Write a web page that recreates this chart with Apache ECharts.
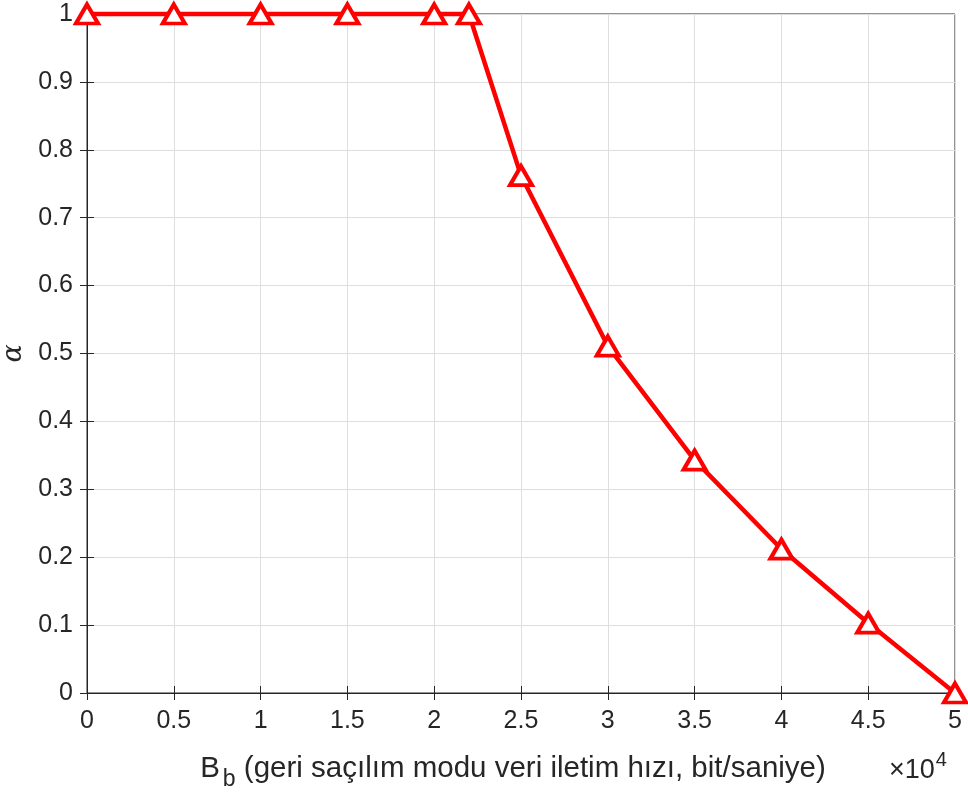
<!DOCTYPE html>
<html>
<head>
<meta charset="utf-8">
<script src="https://cdn.jsdelivr.net/npm/echarts@6/dist/echarts.min.js"></script>
<style>
  html, body { margin: 0; padding: 0; background: #fff; }
  #chart { width: 968px; height: 796px; }
</style>
</head>
<body>
<div id="chart"></div>
<script>
// x in units of 10^4 bit/s
const xValues = [0, 0.5, 1, 1.5, 2, 2.2, 2.5, 3, 3.5, 4, 4.5, 5];
const alphaValues = [1, 1, 1, 1, 1, 1, 0.762, 0.511, 0.343, 0.212, 0.103, 0];

const axisColor = "#262626";
const gridColor = "#dedede";
const fontFamily = "'Liberation Sans', Arial, sans-serif";

let chart = echarts.init(document.getElementById("chart"));

let option = {
  animation: false,
  backgroundColor: "#fff",
  grid: {
    left: 87,
    top: 14,
    width: 868,
    height: 679,
    containLabel: false,
    outerBoundsMode: "none",
    show: true,
    borderColor: axisColor,
    borderWidth: 1,
  },
  xAxis: [
    {
      type: "value",
      min: 0,
      max: 5,
      interval: 0.5,
      name: "{a|B}{b|b}{a| (geri saçılım modu veri iletim hızı, bit/saniye)}",
      nameLocation: "middle",
      nameGap: 53,
      nameTextStyle: {
        padding: [0, 16, 0, 0],
        rich: {
          a: { fontSize: 29.5, color: axisColor, fontFamily: fontFamily },
          b: { fontSize: 23, color: axisColor, fontFamily: fontFamily, padding: [22, 0, 0, 3] },
        },
      },
      axisLine: { show: true, lineStyle: { color: axisColor, width: 1 } },
      axisTick: { inside: true, length: 7, lineStyle: { color: axisColor } },
      axisLabel: { fontSize: 25, color: axisColor, fontFamily: fontFamily, margin: 16 },
      splitLine: { show: true, lineStyle: { color: gridColor, width: 1 } },
    },
    {
      type: "value",
      position: "top",
      min: 0,
      max: 5,
      interval: 0.5,
      axisLine: { show: true, lineStyle: { color: axisColor, width: 1 } },
      axisTick: { inside: true, length: 7, lineStyle: { color: axisColor } },
      axisLabel: { show: false },
      splitLine: { show: false },
    },
  ],
  yAxis: [
    {
      type: "value",
      min: 0,
      max: 1,
      interval: 0.1,
      name: "α",
      nameLocation: "middle",
      nameGap: 58,
      nameRotate: 90,
      nameTextStyle: {
        fontSize: 27,
        fontStyle: "italic",
        fontFamily: "'DejaVu Serif', serif",
        color: axisColor,
      },
      axisLine: { show: true, lineStyle: { color: axisColor, width: 1 } },
      axisTick: { inside: true, length: 7, lineStyle: { color: axisColor } },
      axisLabel: {
        fontSize: 25,
        color: axisColor,
        fontFamily: fontFamily,
        margin: 14,
        formatter: (v) => String(Math.round(v * 10) / 10),
      },
      splitLine: { show: true, lineStyle: { color: gridColor, width: 1 } },
    },
    {
      type: "value",
      position: "right",
      min: 0,
      max: 1,
      interval: 0.1,
      axisLine: { show: true, lineStyle: { color: axisColor, width: 1 } },
      axisTick: { inside: true, length: 7, lineStyle: { color: axisColor } },
      axisLabel: { show: false },
      splitLine: { show: false },
    },
  ],
  graphic: [
    {
      type: "text",
      left: 889,
      top: 750,
      style: {
        text: "{a|×10}{s|4}",
        rich: {
          a: { fontSize: 27, fill: axisColor, fontFamily: fontFamily, padding: [10, 0, 0, 0] },
          s: { fontSize: 20, fill: axisColor, fontFamily: fontFamily, padding: [0, 0, 12, 1] },
        },
      },
    },
  ],
  series: [
    {
      type: "line",
      data: xValues.map((x, i) => [x, alphaValues[i]]),
      symbol: "triangle",
      symbolSize: [22, 19],
      showAllSymbol: true,
      clip: false,
      lineStyle: { color: "#ff0000", width: 4.5 },
      itemStyle: { color: "#ffffff", borderColor: "#ff0000", borderWidth: 4 },
      z: 5,
    },
  ],
};

option && chart.setOption(option);
</script>
</body>
</html>
